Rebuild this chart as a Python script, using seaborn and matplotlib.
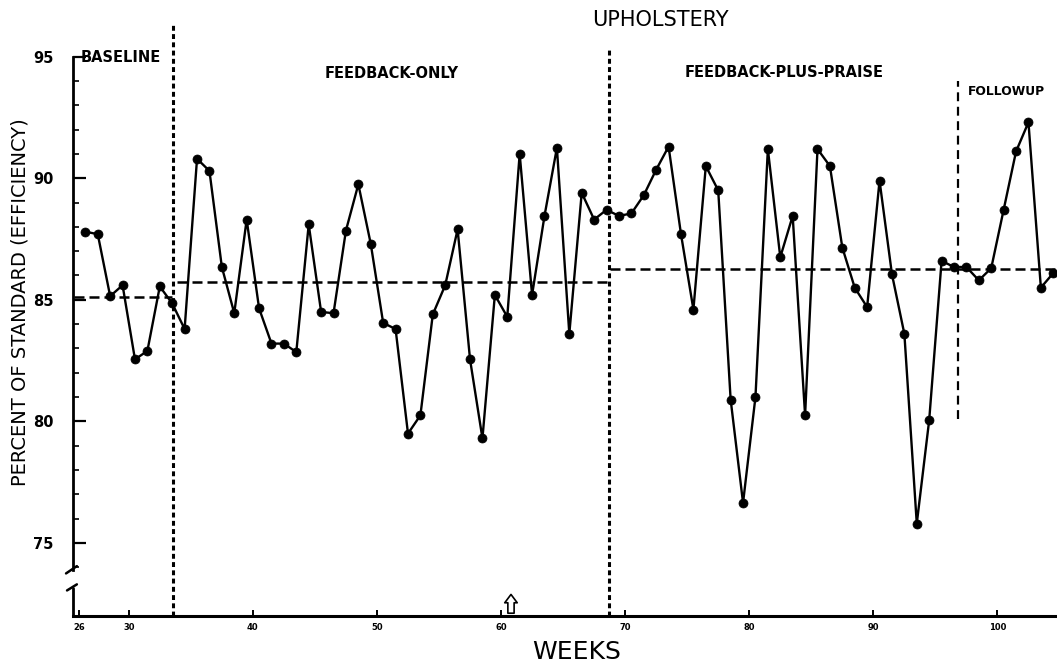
import numpy as np
import pandas as pd
import matplotlib
matplotlib.use("Agg")
import matplotlib.pyplot as plt
import matplotlib.transforms as mtransforms
import seaborn as sns

# weekly efficiency values
baseline = [87.8, 87.7, 85.15, 85.6, 82.55, 82.9, 85.55, 84.85]
feedback_only = [83.8, 90.8, 90.3, 86.35, 84.45, 88.3, 84.65, 83.2, 83.2, 82.85,
                 88.1, 84.5, 84.45, 87.85, 89.75, 87.3, 84.05, 83.8, 79.5, 80.25,
                 84.4, 85.6, 87.9, 82.55, 79.3, 85.2, 84.3, 91.0, 85.2, 88.45,
                 91.25, 83.6, 89.4, 88.3, 88.7]
feedback_praise = [88.45, 88.55, 89.3, 90.35, 91.3, 87.7, 84.6, 90.5, 89.5, 80.9,
                   76.65, 81.0, 91.2, 86.75, 88.45, 80.25, 91.2, 90.5, 87.15, 85.5,
                   84.7, 89.9, 86.05, 83.6, 75.8, 80.05, 86.6, 86.35]
followup = [86.35, 85.8, 86.3, 88.7, 91.1, 92.3, 85.5, 86.1]

first_week = 27
# phase mean lines (value, start week, end week)
phase_means = [(85.1, 25.6, 33.5), (85.75, 33.9, 68.7), (86.25, 68.8, 104.8)]
# phase change lines (week, y from, y to)
phase_lines = [(33.6, 72.0, 96.3), (68.7, 72.0, 95.3)]
followup_line = (96.8, 80.1, 94.0)

x_ticks = [26, 30, 40, 50, 60, 70, 80, 90, 100]
y_ticks = [75, 80, 85, 90, 95]

values = baseline + feedback_only + feedback_praise + followup
df = pd.DataFrame({"week": np.arange(first_week, first_week + len(values)),
                   "pct": values})
df["x"] = df["week"] - 0.5  # points sit mid-week

sns.set_style("ticks")
plt.rcParams["font.family"] = ["DejaVu Sans"]
plt.rcParams["text.color"] = "black"
plt.rcParams["xtick.color"] = "black"
plt.rcParams["ytick.color"] = "black"
plt.rcParams["axes.edgecolor"] = "black"

fig = plt.figure(figsize=(10.57, 6.71), dpi=100)
ax = fig.add_axes([0.069, 0.082, 0.931, 0.888])

sns.lineplot(data=df, x="x", y="pct", estimator=None, color="black",
             linewidth=1.7, marker="o", markersize=6.5, markeredgecolor="black",
             markeredgewidth=0.5, ax=ax)

# mean level lines
for val, x0, x1 in phase_means:
    ax.hlines(val, x0, x1, colors="black", linestyles=(0, (4, 2)), linewidth=1.8)

# phase change lines
for xv, y0, y1 in phase_lines:
    ax.vlines(xv, y0, y1, colors="black", linestyles=(0, (1.6, 1.1)),
              linewidth=2.2, clip_on=False)
ax.vlines(followup_line[0], followup_line[1], followup_line[2], colors="black",
          linestyles=(0, (4, 2.5)), linewidth=1.6)

# phase labels
lab = dict(fontweight="bold", va="center", color="black")
ax.text(26.1, 94.95, "BASELINE", ha="left", fontsize=10.5, **lab)
ax.text(51.2, 94.3, "FEEDBACK-ONLY", ha="center", fontsize=10.5, **lab)
ax.text(82.8, 94.35, "FEEDBACK-PLUS-PRAISE", ha="center", fontsize=10.5, **lab)
ax.text(97.6, 93.55, "FOLLOWUP", ha="left", fontsize=8.8, **lab)

# arrow on the x axis
ax.annotate("", xy=(60.8, 73.0), xytext=(60.8, 72.0),
            arrowprops=dict(arrowstyle="simple,head_width=0.9,head_length=0.6,tail_width=0.45",
                            fc="white", ec="black", lw=1.2))

ax.set_xlim(25.5, 104.8)
ax.set_ylim(72, 96.5)
ax.set_xticks(x_ticks)
ax.set_xticklabels([str(t) for t in x_ticks], fontsize=6, fontweight="bold")
ax.set_yticks(y_ticks)
ax.set_yticklabels([str(t) for t in y_ticks], fontsize=10.5, fontweight="bold")
ax.set_yticks(np.arange(74, 96, 1), minor=True)
ax.tick_params(axis="y", which="major", direction="in", length=9, width=1.6, pad=14, left=True)
ax.tick_params(axis="y", which="minor", direction="in", length=4, width=1.2, left=True)
ax.tick_params(axis="x", which="major", direction="in", length=4, width=1.4, pad=5, bottom=True)
ax.set_xlabel("")
ax.set_ylabel("")

for side in ["top", "right"]:
    ax.spines[side].set_visible(False)
ax.spines["bottom"].set_linewidth(2.2)
ax.spines["left"].set_linewidth(2.0)
ax.spines["left"].set_bounds(73.9, 95)

# broken y axis
trans = mtransforms.blended_transform_factory(ax.transAxes, ax.transData)
ax.plot([0, 0], [72, 73.15], color="black", lw=2.0, transform=trans, clip_on=False)
ax.plot([-0.006, 0.004], [73.05, 73.3], color="black", lw=1.8, transform=trans, clip_on=False)
ax.plot([-0.007, 0.004], [73.75, 74.05], color="black", lw=1.8, transform=trans, clip_on=False)

fig.text(660 / 1057, 1 - 20 / 671, "UPHOLSTERY", ha="center", va="center", fontsize=15)
fig.text(577 / 1057, 1 - 652 / 671, "WEEKS", ha="center", va="center", fontsize=18)
fig.text(20 / 1057, 1 - 302 / 671, "PERCENT OF STANDARD (EFFICIENCY)",
         ha="center", va="center", rotation=90, fontsize=14)

fig.savefig("out.png", dpi=100)
